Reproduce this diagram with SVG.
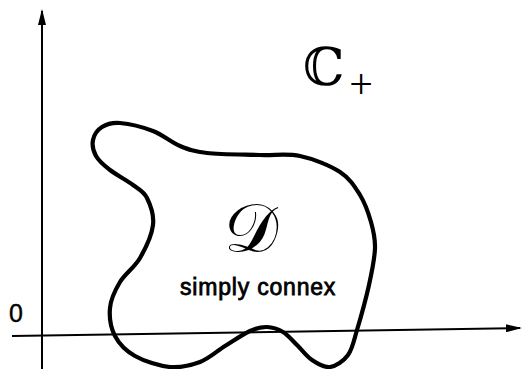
<svg xmlns="http://www.w3.org/2000/svg" width="523" height="369" viewBox="0 0 523 369">
<style>
.axis{fill:none;stroke:#000;stroke-width:2;marker-end:url(#arr)}
.curve{fill:none;stroke:#000;stroke-width:4.2;stroke-linejoin:round}
.lbl{font-family:"Liberation Sans",Arial,sans-serif;fill:#000}
.math{font-family:"DejaVu Serif","DejaVu Sans",serif;fill:#000}
</style>
<defs>
<marker id="arr" viewBox="0 0 16 8" refX="14" refY="4" markerWidth="16" markerHeight="8" markerUnits="userSpaceOnUse" orient="auto">
<path d="M0,0 L16,4 L0,8 Z" fill="#000"/>
</marker>
</defs>
<rect width="523" height="369" fill="#fff"/>
<g id="axes">
<line class="axis" x1="42" y1="369" x2="42" y2="11"/>
<line class="axis" x1="12" y1="336" x2="520" y2="328"/>
</g>
<g id="domain">
<path class="curve" d="M120,123 C128.5,123.7 143,127.2 153,131 C163,134.8 171,142.3 180,146 C189,149.7 193.7,151.5 207,153 C220.3,154.5 244.5,154.5 260,155 C275.5,155.5 286.7,153.2 300,156 C313.3,158.8 330,165.5 340,172 C350,178.5 354.8,186.7 360,195 C365.2,203.3 368.5,213.2 371,222 C373.5,230.8 375.3,237.5 375,248 C374.7,258.5 372,271.3 369,285 C366,298.7 360.5,318.3 357,330 C353.5,341.7 352.5,348.8 348,355 C343.5,361.2 336,366.2 330,367 C324,367.8 317.5,363.7 312,360 C306.5,356.3 301.8,349.7 297,345 C292.2,340.3 288,335 283,332 C278,329 272.5,327.2 267,327 C261.5,326.8 257,327.8 250,331 C243,334.2 233.3,340.8 225,346 C216.7,351.2 209.2,358.5 200,362 C190.8,365.5 180.8,368 170,367 C159.2,366 144.2,361.2 135,356 C125.8,350.8 119.2,344 115,336 C110.8,328 109.2,317 110,308 C110.8,299 115,290.3 120,282 C125,273.7 134.5,267.5 140,258 C145.5,248.5 151.8,235 153,225 C154.2,215 150.3,204.7 147,198 C143.7,191.3 139.2,189.7 133,185 C126.8,180.3 116.2,174.8 110,170 C103.8,165.2 98.8,161 96,156 C93.2,151 92,144.8 93,140 C94,135.2 97.5,129.8 102,127 C106.5,124.2 111.5,122.3 120,123 Z"/>
<text class="math" x="251" y="252" font-size="68" text-anchor="middle">𝒟</text>
<text class="lbl" x="180" y="295" font-size="23" letter-spacing="0.8" stroke="#000" stroke-width="0.8">simply connex</text>
</g>
<g id="labels">
<text class="lbl" x="16" y="322" font-size="25" text-anchor="middle" stroke="#000" stroke-width="0.4">0</text>
<text class="math" x="303" y="85" font-size="52">ℂ</text>
<text x="361" y="98" font-size="42" text-anchor="middle" style="font-family:'Liberation Serif','Times New Roman',serif">+</text>
</g>
</svg>
